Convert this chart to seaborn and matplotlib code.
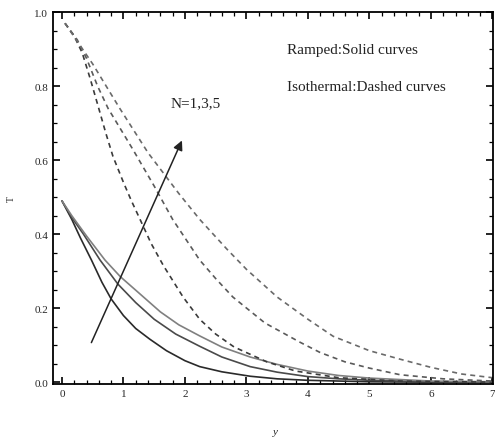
import matplotlib
matplotlib.use("Agg")
import matplotlib.pyplot as plt
import seaborn as sns
import pandas as pd
from matplotlib.ticker import MultipleLocator

# ---- data ----
# Ramped (solid) curves, N = 1, 3, 5
ramp_n1_x = [0.0, 0.08, 0.16, 0.3, 0.48, 0.65, 0.8, 1.0, 1.2, 1.43, 1.7, 2.0, 2.24, 2.6, 3.06, 3.5, 4.0, 5.0, 6.0, 7.0]
ramp_n1_y = [0.49, 0.465, 0.44, 0.39, 0.33, 0.27, 0.225, 0.18, 0.145, 0.116, 0.085, 0.058, 0.042, 0.028, 0.016, 0.009, 0.005, 0.001, 0.0, 0.0]
ramp_n3_x = [0.0, 0.16, 0.35, 0.62, 0.91, 1.2, 1.5, 1.85, 2.24, 2.6, 3.06, 3.5, 4.0, 4.5, 5.0, 6.0, 7.0]
ramp_n3_y = [0.49, 0.445, 0.40, 0.33, 0.265, 0.215, 0.17, 0.13, 0.097, 0.068, 0.042, 0.027, 0.015, 0.009, 0.005, 0.001, 0.0]
ramp_n5_x = [0.0, 0.16, 0.4, 0.7, 0.95, 1.19, 1.6, 1.9, 2.24, 2.6, 3.06, 3.5, 4.0, 4.5, 5.0, 6.0, 7.0]
ramp_n5_y = [0.49, 0.45, 0.395, 0.33, 0.285, 0.25, 0.19, 0.155, 0.125, 0.095, 0.068, 0.048, 0.03, 0.018, 0.011, 0.003, 0.001]

# Isothermal (dashed) curves, N = 1, 3, 5
iso_n1_x = [0.05, 0.2, 0.33, 0.46, 0.59, 0.71, 0.83, 1.0, 1.13, 1.27, 1.45, 1.65, 1.97, 2.24, 2.5, 2.8, 3.33, 3.8, 4.5, 5.5, 7.0]
iso_n1_y = [0.97, 0.935, 0.89, 0.82, 0.745, 0.675, 0.61, 0.54, 0.49, 0.44, 0.375, 0.315, 0.23, 0.17, 0.13, 0.095, 0.055, 0.03, 0.012, 0.003, 0.0]
iso_n3_x = [0.05, 0.25, 0.4, 0.58, 0.75, 0.95, 1.15, 1.5, 1.8, 2.0, 2.24, 2.5, 2.78, 3.3, 3.87, 4.2, 4.6, 5.0, 5.5, 6.2, 7.0]
iso_n3_y = [0.97, 0.925, 0.875, 0.80, 0.74, 0.685, 0.63, 0.53, 0.44, 0.39, 0.33, 0.28, 0.23, 0.16, 0.108, 0.08, 0.055, 0.038, 0.02, 0.009, 0.003]
iso_n5_x = [0.05, 0.5, 0.94, 1.4, 1.9, 2.24, 2.68, 3.0, 3.5, 4.0, 4.41, 5.0, 5.5, 6.0, 6.5, 7.0]
iso_n5_y = [0.97, 0.86, 0.74, 0.62, 0.51, 0.44, 0.36, 0.305, 0.23, 0.17, 0.124, 0.085, 0.062, 0.04, 0.022, 0.012]

labels = ["Ramped:Solid curves", "Isothermal:Dashed curves"]
n_label = "N=1,3,5"
x_label = "y"
y_label = "T"
x_ticks = [0, 1, 2, 3, 4, 5, 6, 7]
y_ticks = [0.0, 0.2, 0.4, 0.6, 0.8, 1.0]

rows = []
for name, xs, ys in [("r1", ramp_n1_x, ramp_n1_y), ("r3", ramp_n3_x, ramp_n3_y),
                     ("r5", ramp_n5_x, ramp_n5_y), ("i1", iso_n1_x, iso_n1_y),
                     ("i3", iso_n3_x, iso_n3_y), ("i5", iso_n5_x, iso_n5_y)]:
    for xv, yv in zip(xs, ys):
        rows.append({"curve": name, "x": xv, "y": yv})
df = pd.DataFrame(rows)

sns.set_style("ticks")
plt.rcParams["font.family"] = ["Liberation Serif", "DejaVu Serif"]

fig = plt.figure(figsize=(4.95, 4.39), dpi=100)
ax = fig.add_axes([0.107, 0.123, 0.889, 0.847])

palette = {"r1": "#2a2a2a", "r3": "#4a4a4a", "r5": "#808080",
           "i1": "#3a3a3a", "i3": "#5a5a5a", "i5": "#6a6a6a"}
dashes = {"r1": "", "r3": "", "r5": "", "i1": (3, 2.5), "i3": (3, 2.5), "i5": (3, 2.5)}
sns.lineplot(data=df, x="x", y="y", hue="curve", style="curve", palette=palette,
             dashes=dashes, linewidth=1.2, legend=False, ax=ax, sort=False)

ax.set_xlim(-0.146, 7.01)
ax.set_ylim(-0.005, 1.0)
ax.set_xticks(x_ticks)
ax.set_yticks(y_ticks)
ax.set_xticklabels([str(t) for t in x_ticks], fontsize=8)
ax.set_yticklabels([f"{t:.1f}" for t in y_ticks], fontsize=8)
ax.xaxis.set_minor_locator(MultipleLocator(0.2))
ax.yaxis.set_minor_locator(MultipleLocator(0.05))
ax.tick_params(which="both", direction="in", top=True, right=True, color="black")
ax.tick_params(which="major", length=5, width=1.2)
ax.tick_params(which="minor", length=3, width=0.9)
for s in ax.spines.values():
    s.set_visible(True)
    s.set_color("black")
    s.set_linewidth(1.3)

ax.set_xlabel(x_label, fontsize=8, style="italic")
ax.set_ylabel(y_label, fontsize=7)
ax.xaxis.set_label_coords(0.505, -0.115)
ax.yaxis.set_label_coords(-0.085, 0.5)

ax.annotate("", xy=(1.97, 0.66), xytext=(0.46, 0.10),
            arrowprops=dict(arrowstyle="-|>", color="#222222", lw=1.1,
                            mutation_scale=14))
ax.text(1.76, 0.755, n_label, fontsize=11, va="center", ha="left", color="#222222")
ax.text(3.66, 0.90, labels[0], fontsize=11, va="center", ha="left", color="#222222")
ax.text(3.66, 0.80, labels[1], fontsize=11, va="center", ha="left", color="#222222")

fig.savefig("out.png", dpi=100)
